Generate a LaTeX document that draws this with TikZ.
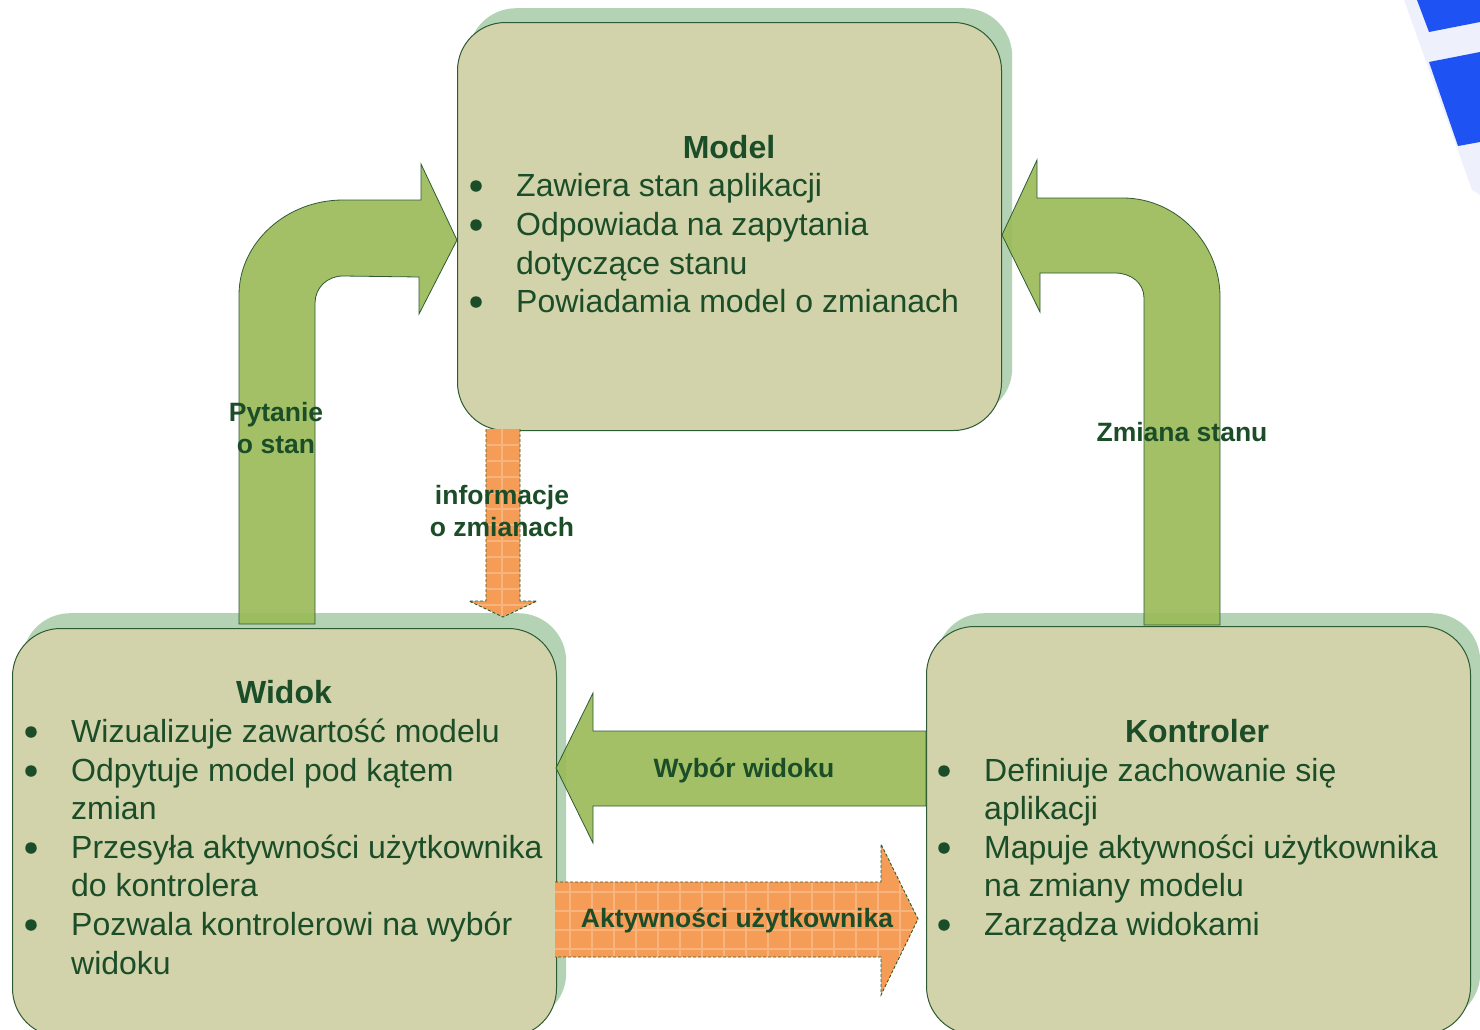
\documentclass[tikz,border=0pt]{standalone}
\usepackage{fontspec}
\setmainfont{Liberation Sans}
\definecolor{boxc}{HTML}{D2D3AA}
\definecolor{shadowc}{HTML}{B3D3B4}
\definecolor{borderc}{HTML}{2E5B34}
\definecolor{textc}{HTML}{1B4D28}
\definecolor{arrowg}{HTML}{9BBB59}
\definecolor{arrowo}{HTML}{F59D56}
\definecolor{gridc}{HTML}{F8B47F}
\definecolor{bluemain}{HTML}{1F52F2}
\definecolor{bluelight}{HTML}{EEF1FC}
\begin{document}
\begin{tikzpicture}[x=1pt,y=-1pt,
  shadowbox/.style={fill=shadowc, rounded corners=48pt, minimum width=544pt, minimum height=408pt, anchor=north west, inner sep=0pt},
  mainbox/.style={fill=boxc, draw=borderc, line width=1pt, rounded corners=48pt, minimum width=544pt, minimum height=408pt, anchor=north west, inner sep=0pt},
  garrow/.style={fill=arrowg, fill opacity=0.92, draw=borderc, line width=0.8pt},
  oarrow/.style={draw=borderc, dash pattern=on 3pt off 2pt, line width=0.9pt},
  gline/.style={gridc, line width=1.1pt},
  body/.style={font=\fontsize{32}{38}\selectfont, text=textc, inner sep=0pt, anchor=mid west},
  bul/.style={circle, fill=textc, minimum size=11.5pt, inner sep=0pt},
  ttl/.style={font=\fontsize{32}{38}\selectfont\bfseries, text=textc, inner sep=0pt, anchor=mid},
  lab/.style={font=\fontsize{26.5}{32}\selectfont\bfseries, text=textc, inner sep=0pt, anchor=mid},
]
\useasboundingbox (0,0) rectangle (1480,1029);
\clip (0,0) rectangle (1480,1029);

% blue corner decoration
\fill[bluelight] (1404,0) -- (1480,0) -- (1480,195) -- (1472,190) -- cycle;
\fill[bluemain] (1417,0) -- (1480,0) -- (1480,22) -- (1429,32) -- cycle;
\fill[bluemain] (1429,62) -- (1480,52) -- (1480,142) -- (1458,146) -- cycle;

% shadows
\node[shadowbox] (models) at (468,8) {};
\node[shadowbox] (widoks) at (22,613) {};
\node[shadowbox] (kontrs) at (936,613) {};
% boxes
\node[mainbox] (model) at (457,22) {};
\node[mainbox] (widok) at (12,628) {};
\node[mainbox] (kontr) at (926,626) {};

% green bent arrow left (Pytanie o stan)
\draw[garrow] (239,624) -- (239,295) .. controls (239,243) and (286,200) .. (343,200)
  -- (421,200) -- (421,164) -- (457,240) -- (419,314) -- (419,277) -- (343,276)
  .. controls (327,276) and (315,288) .. (315,303) -- (315,624) -- cycle;
% green bent arrow right (Zmiana stanu)
\draw[garrow] (1144,625) -- (1144,298) .. controls (1144,283) and (1131,273) .. (1115,273)
  -- (1040,273) -- (1040,312) -- (1002,235) -- (1037,160) -- (1037,198) -- (1123,198)
  .. controls (1176,198) and (1220,243) .. (1220,297) -- (1220,625) -- cycle;
% green straight arrow (Wybor widoku)
\draw[garrow] (926,731) -- (593,731) -- (593,693) -- (556,768) -- (593,843) -- (593,806) -- (926,806) -- cycle;

% orange down arrow
\fill[arrowo] (486,429) -- (486,601) -- (469,601) -- (503,617) -- (537,601) -- (520,601) -- (520,429) -- cycle;
\begin{scope}
\clip (486,429) -- (486,601) -- (469,601) -- (503,617) -- (537,601) -- (520,601) -- (520,429) -- cycle;
\foreach \yy in {445,461,...,610} \draw[gline] (460,\yy) -- (545,\yy);
\foreach \xx in {502} \draw[gline] (\xx,429) -- (\xx,620);
\end{scope}
\draw[oarrow] (486,429) -- (486,601) -- (469,601) -- (503,617) -- (537,601) -- (520,601) -- (520,429);

% orange right arrow
\fill[arrowo] (555,882) -- (881,882) -- (881,844) -- (918,919) -- (881,995) -- (881,957) -- (555,957) -- cycle;
\begin{scope}
\clip (555,882) -- (881,882) -- (881,844) -- (918,919) -- (881,995) -- (881,957) -- (555,957) -- cycle;
\foreach \yy in {892,911,930,949} \draw[gline] (550,\yy) -- (920,\yy);
\foreach \xx in {570,592,...,920} \draw[gline] (\xx,840) -- (\xx,1000);
\end{scope}
\draw[oarrow] (555,882) -- (881,882) -- (881,844) -- (918,919) -- (881,995) -- (881,957) -- (555,957);

% Model text
\node[ttl] (mt) at (729,156) {Model};
\node[bul] (mb1) at (476,186) {};
\node[body] (ml1) at (516,194) {Zawiera stan aplikacji};
\node[bul] (mb2) at (476,225) {};
\node[body] (ml2) at (516,233) {Odpowiada na zapytania};
\node[body] (ml3) at (516,272) {dotyczące stanu};
\node[bul] (mb3) at (476,302) {};
\node[body] (ml4) at (516,310) {Powiadamia model o zmianach};

% Widok text
\node[ttl] (wt) at (284,701) {Widok};
\node[bul] (wb1) at (31,732) {};
\node[body] (wl1) at (71,740) {Wizualizuje zawartość modelu};
\node[bul] (wb2) at (31,771) {};
\node[body] (wl2) at (71,779) {Odpytuje model pod kątem};
\node[body] (wl3) at (71,817) {zmian};
\node[bul] (wb3) at (31,848) {};
\node[body] (wl4) at (71,856) {Przesyła aktywności użytkownika};
\node[body] (wl5) at (71,894) {do kontrolera};
\node[bul] (wb4) at (31,925) {};
\node[body] (wl6) at (71,933) {Pozwala kontrolerowi na wybór};
\node[body] (wl7) at (71,972) {widoku};

% Kontroler text
\node[ttl] (kt) at (1197,740) {Kontroler};
\node[bul] (kb1) at (944,771) {};
\node[body] (kl1) at (984,779) {Definiuje zachowanie się};
\node[body] (kl2) at (984,817) {aplikacji};
\node[bul] (kb2) at (944,848) {};
\node[body] (kl3) at (984,856) {Mapuje aktywności użytkownika};
\node[body] (kl4) at (984,894) {na zmiany modelu};
\node[bul] (kb3) at (944,925) {};
\node[body] (kl5) at (984,933) {Zarządza widokami};

% arrow labels
\node[lab] (p1) at (276,419) {Pytanie};
\node[lab] (p2) at (276,451) {o stan};
\node[lab] (zs) at (1182,439) {Zmiana stanu};
\node[lab] (i1) at (502,502) {informacje};
\node[lab] (i2) at (502,534) {o zmianach};
\node[lab] (wv) at (744,775) {Wybór widoku};
\node[lab] (au) at (737,925) {Aktywności użytkownika};
\end{tikzpicture}
\end{document}
